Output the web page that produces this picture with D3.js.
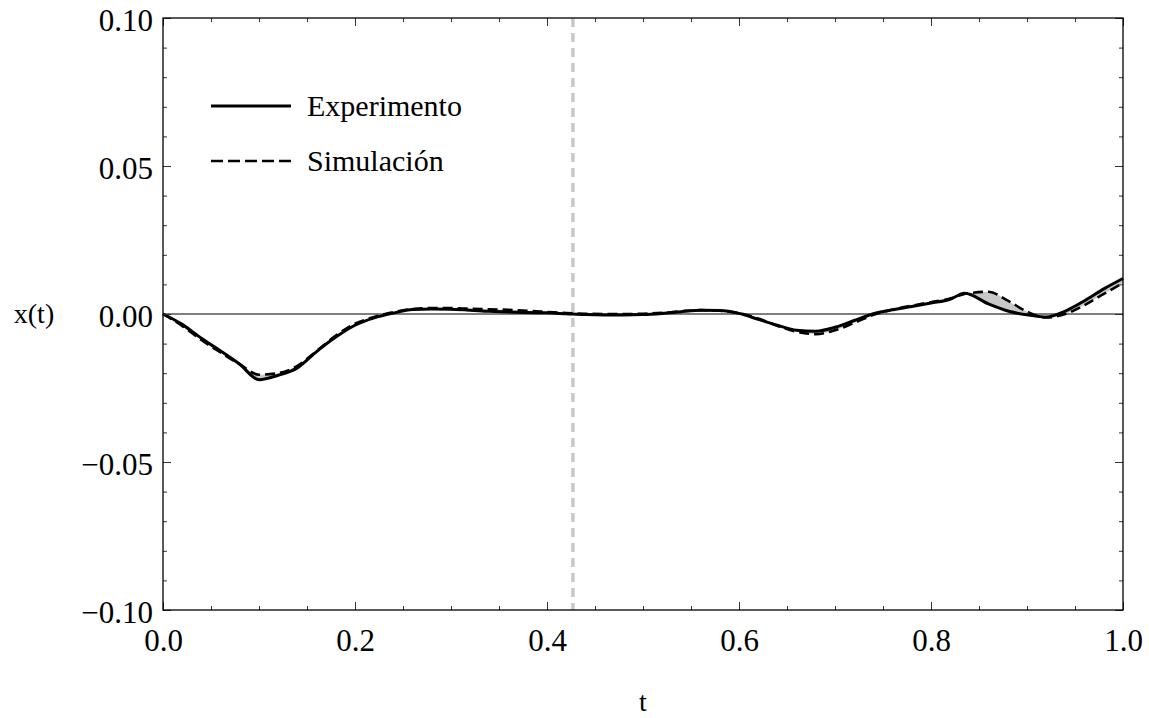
<!DOCTYPE html>
<html><head><meta charset="utf-8">
<script src="https://cdn.jsdelivr.net/npm/d3@7"></script>
<style>body{margin:0;background:#fff}svg text{font-family:"Liberation Serif",serif;fill:#000}</style>
</head><body>
<svg id="c" width="1149" height="718"></svg>
<script>
const tValues = [0,0.02,0.04,0.06,0.08,0.10,0.12,0.14,0.16,0.18,0.20,0.22,0.24,0.26,0.28,0.30,0.32,0.34,0.36,0.38,0.40,0.42,0.44,0.46,0.48,0.50,0.52,0.54,0.56,0.58,0.60,0.62,0.64,0.66,0.68,0.70,0.72,0.74,0.76,0.78,0.80,0.82,0.835,0.86,0.88,0.90,0.92,0.94,0.96,0.98,1.00];
const experimento = [0,-0.0035,-0.0082,-0.0125,-0.0170,-0.0222,-0.0207,-0.0182,-0.0127,-0.0078,-0.0038,-0.0013,0.0003,0.0015,0.0017,0.0016,0.0013,0.0009,0.0007,0.0005,0.0004,0.0001,-0.0002,-0.0003,-0.0003,-0.0002,0.0002,0.0008,0.0013,0.0012,0.0002,-0.0018,-0.0038,-0.0055,-0.0058,-0.0045,-0.0022,0.0001,0.0014,0.0025,0.0037,0.0050,0.0070,0.0034,0.0010,-0.0003,-0.0010,0.0010,0.0045,0.0085,0.0120];
const simulacion = [0,-0.0040,-0.0088,-0.0130,-0.0170,-0.0205,-0.0200,-0.0175,-0.0125,-0.0073,-0.0033,-0.0010,0.0006,0.0017,0.0020,0.0020,0.0018,0.0016,0.0014,0.0011,0.0007,0.0003,0.0001,0.0000,0.0000,0.0001,0.0004,0.0009,0.0013,0.0011,0.0003,-0.0015,-0.0040,-0.0060,-0.0068,-0.0055,-0.0030,-0.0003,0.0015,0.0028,0.0040,0.0052,0.0068,0.0075,0.0045,0.0008,-0.0012,0.0000,0.0030,0.0068,0.0105];
const xTicks = [0,0.2,0.4,0.6,0.8,1.0];
const yTicks = [-0.10,-0.05,0.00,0.05,0.10];
const markerT = 0.427;
const seriesNames = ["Experimento","Simulación"];

const svg = d3.select("#c");
const L=163,R=1123,T=18,B=610;
const x = d3.scaleLinear().domain([0,1]).range([L,R]);
const y = d3.scaleLinear().domain([-0.1,0.1]).range([B,T]);
const data = tValues.map((t,i)=>({t,e:experimento[i],s:simulacion[i]}));
const curve = d3.curveMonotoneX;

svg.append("path").datum(data)
  .attr("d", d3.area().x(d=>x(d.t)).y0(d=>y(d.e)).y1(d=>y(d.s)).curve(curve))
  .attr("fill","#c8c8c8");

svg.append("line").attr("x1",L).attr("x2",R).attr("y1",y(0)).attr("y2",y(0)).attr("stroke","#000").attr("stroke-width",1);
svg.append("line").attr("x1",x(markerT)).attr("x2",x(markerT)).attr("y1",T).attr("y2",B)
  .attr("stroke","#c8c8c8").attr("stroke-width",3.5).attr("stroke-dasharray","9,6");

svg.append("path").datum(data).attr("d",d3.line().x(d=>x(d.t)).y(d=>y(d.e)).curve(curve))
  .attr("fill","none").attr("stroke","#000").attr("stroke-width",3);
svg.append("path").datum(data).attr("d",d3.line().x(d=>x(d.t)).y(d=>y(d.s)).curve(curve))
  .attr("fill","none").attr("stroke","#000").attr("stroke-width",2.6).attr("stroke-dasharray","10,5");

const fmtX = d3.format(".1f"), fmtY = v => d3.format(".2f")(v).replace("-","\u2212");
const gB = svg.append("g").attr("transform",`translate(0,${B})`);
gB.call(d3.axisBottom(x).tickValues(d3.range(0,1.0001,0.05)).tickSize(-4).tickFormat(""));
gB.append("g").attr("class","maj").call(d3.axisBottom(x).tickValues(xTicks).tickSize(-8).tickFormat(fmtX));
const gT = svg.append("g").attr("transform",`translate(0,${T})`);
gT.call(d3.axisTop(x).tickValues(d3.range(0,1.0001,0.05)).tickSize(-4).tickFormat(""));
gT.append("g").call(d3.axisTop(x).tickValues(xTicks).tickSize(-8).tickFormat(""));
const gL = svg.append("g").attr("transform",`translate(${L},0)`);
gL.call(d3.axisLeft(y).tickValues(d3.range(-0.1,0.1001,0.01)).tickSize(-4).tickFormat(""));
gL.append("g").attr("class","maj").call(d3.axisLeft(y).tickValues(yTicks).tickSize(-8).tickFormat(fmtY));
const gR = svg.append("g").attr("transform",`translate(${R},0)`);
gR.call(d3.axisRight(y).tickValues(d3.range(-0.1,0.1001,0.01)).tickSize(-4).tickFormat(""));
gR.append("g").call(d3.axisRight(y).tickValues(yTicks).tickSize(-8).tickFormat(""));
svg.selectAll(".domain").attr("stroke","none");
svg.selectAll(".tick line").attr("stroke","#333").attr("stroke-width",1);
svg.selectAll(".tick text").attr("font-family","Liberation Serif").attr("font-size",31).attr("fill","#000");
gL.selectAll(".tick text").attr("x",-10).attr("dy",null).attr("y",12);
gB.selectAll(".tick text").attr("dy",null).attr("y",41);
svg.append("rect").attr("x",L).attr("y",T).attr("width",R-L).attr("height",B-T)
  .attr("fill","none").attr("stroke","#000").attr("stroke-width",1.3);

svg.append("text").attr("x",34).attr("y",y(0)+9).attr("text-anchor","middle").attr("font-size",28).text("x(t)");
svg.append("text").attr("x",(L+R)/2).attr("y",711).attr("text-anchor","middle").attr("font-size",28).text("t");

const leg = [{n:seriesNames[0],dash:null,w:3,yy:106},{n:seriesNames[1],dash:"12,5",w:2.6,yy:161}];
leg.forEach(l=>{
  svg.append("line").attr("x1",211).attr("x2",291).attr("y1",l.yy).attr("y2",l.yy)
    .attr("stroke","#000").attr("stroke-width",l.w).attr("stroke-dasharray",l.dash);
  svg.append("text").attr("x",307).attr("y",l.yy+10).attr("font-size",30).text(l.n);
});
</script>
</body></html>
